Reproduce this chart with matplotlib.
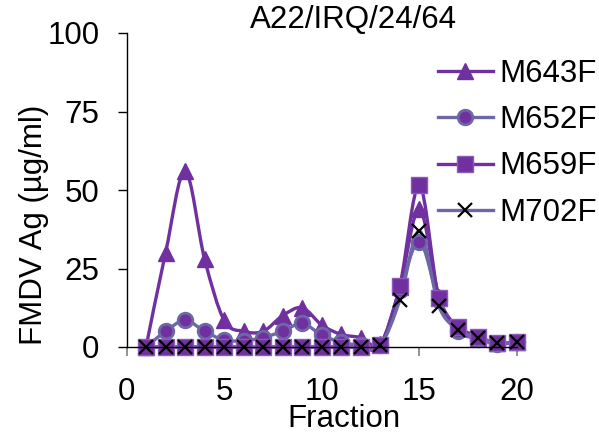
import numpy as np
import matplotlib
matplotlib.use("Agg")
import matplotlib.pyplot as plt
from matplotlib.path import Path
from matplotlib.patches import PathPatch

plt.rcParams["font.family"] = ["Liberation Sans", "DejaVu Sans"]

# Antigen content per gradient fraction
fractions = list(range(1, 21))
m643f = [0, 30, 56, 28, 8.5, 5, 5, 10, 12.5, 7, 4, 3, 1, 19, 44, 16, 6, 3, 1.2, 1.5]
m652f = [0, 5, 8.5, 5, 2.2, 2, 3, 5, 7.5, 3.8, 1.5, 0.5, 0.5, 18, 33.5, 15, 5, 2.5, 1, 1.5]
m659f = [0, 0, 0, 0, 0, 0, 0, 0, 0, 0, 0, 0, 0.5, 19.5, 51.5, 15.5, 6.5, 3.3, 1.2, 1.7]
m702f = [0, 0, 0, 0, 0, 0, 0, 0, 0, 0, 0, 0, 0.5, 15, 37, 13, 5.5, 2.9, 1.2, 1.7]
series_names = ["M643F", "M652F", "M659F", "M702F"]

title = "A22/IRQ/24/64"
x_label = "Fraction"
y_label = "FMDV Ag (\u00b5g/ml)"

PURPLE = "#7030A0"
SLATE = "#6C68A6"


def smooth_path(xs, ys):
    """Spreadsheet-style smoothed line through the points (cubic Bezier)."""
    xs = np.asarray(xs, float)
    ys = np.asarray(ys, float)
    n = len(xs)
    verts = [(xs[0], ys[0])]
    codes = [Path.MOVETO]
    for i in range(n - 1):
        x0, y0 = (xs[i - 1], ys[i - 1]) if i > 0 else (xs[i], ys[i])
        x3, y3 = (xs[i + 2], ys[i + 2]) if i + 2 < n else (xs[i + 1], ys[i + 1])
        c1 = (xs[i] + (xs[i + 1] - x0) / 6, ys[i] + (ys[i + 1] - y0) / 6)
        c2 = (xs[i + 1] - (x3 - xs[i]) / 6, ys[i + 1] - (y3 - ys[i]) / 6)
        verts += [c1, c2, (xs[i + 1], ys[i + 1])]
        codes += [Path.CURVE4] * 3
    return Path(verts, codes)


styles = [
    dict(line=PURPLE, marker="^", ms=12, mfc=PURPLE, mec=PURPLE, mew=1),
    dict(line=SLATE, marker="o", ms=10.5, mfc=PURPLE, mec=SLATE, mew=2),
    dict(line=PURPLE, marker="s", ms=12, mfc=PURPLE, mec="#8A5BB8", mew=1),
    dict(line=SLATE, marker="x", ms=9.5, mfc="black", mec="black", mew=1.6),
]

fig = plt.figure(figsize=(5.99, 4.33), dpi=100)
ax = fig.add_axes([126.5 / 599, 86 / 433, (517 - 126.5) / 599, (347 - 33) / 433])

handles = []
for name, values, st in zip(series_names, [m643f, m652f, m659f, m702f], styles):
    patch = PathPatch(smooth_path(fractions, values), facecolor="none",
                      edgecolor=st["line"], lw=2.4, clip_on=False)
    ax.add_patch(patch)
    ax.plot(fractions, values, ls="none", marker=st["marker"],
            ms=st["ms"], mfc=st["mfc"], mec=st["mec"], mew=st["mew"],
            clip_on=False)
    handles.append(ax.plot([], [], color=st["line"], lw=2.4, marker=st["marker"],
                           ms=st["ms"], mfc=st["mfc"], mec=st["mec"],
                           mew=st["mew"], label=name)[0])

ax.set_xlim(0, 20)
ax.set_ylim(0, 100)
ax.set_xticks([0, 5, 10, 15, 20])
ax.set_yticks([0, 25, 50, 75, 100])
for side in ("top", "right"):
    ax.spines[side].set_visible(False)
ax.spines["left"].set_color("black")
ax.spines["bottom"].set_color("black")
ax.spines["left"].set_linewidth(1.0)
ax.spines["bottom"].set_linewidth(1.0)
ax.tick_params(axis="x", direction="out", length=6.5, width=1.2,
               color="#808080", labelsize=22.5, pad=15)
ax.tick_params(axis="y", direction="out", length=6.5, width=1.0,
               color="black", labelsize=22.5, pad=13)

fig.text(353 / 599, 1 - 20 / 433, title, ha="center", va="center", fontsize=22.5)
fig.text(344 / 599, 6 / 433, x_label, ha="center", va="baseline", fontsize=22.5)
fig.text(34 / 599, 1 - 225 / 433, y_label, ha="center", va="center",
         rotation=90, fontsize=22.5)

fig.legend(handles=handles, loc="upper left",
           bbox_to_anchor=(438 / 599, 1 - 59 / 433), frameon=False,
           fontsize=22.5, handlelength=1.75, handletextpad=0.2,
           labelspacing=0.52, borderaxespad=0, borderpad=0)

fig.savefig("out.png", dpi=100)
